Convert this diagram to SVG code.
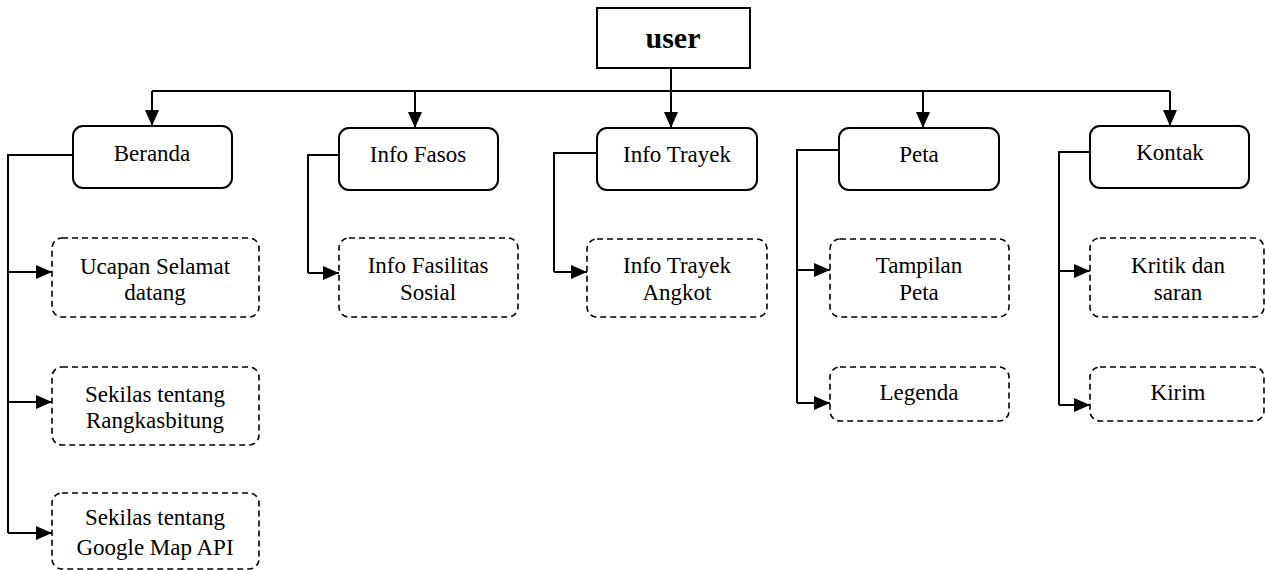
<svg xmlns="http://www.w3.org/2000/svg" width="1265" height="570" viewBox="0 0 1265 570">
<defs>
<marker id="ah" viewBox="0 0 16 14" refX="16" refY="7" markerWidth="16" markerHeight="14" markerUnits="userSpaceOnUse" orient="auto">
<path d="M0,0 L16,7 L0,14 Z" fill="#000"/>
</marker>
<style>
.main{fill:#fff;stroke:#000;stroke-width:2}
.sub{fill:#fff;stroke:#000;stroke-width:1.6;stroke-dasharray:6 4}
.t{font-family:"Liberation Serif","Times New Roman",serif;font-size:23px;fill:#000;text-anchor:middle}
.tb{font-family:"Liberation Serif","Times New Roman",serif;font-size:30px;font-weight:bold;fill:#000;text-anchor:middle}
.c{fill:none;stroke:#000;stroke-width:2}
.ca{fill:none;stroke:#000;stroke-width:2;marker-end:url(#ah)}
</style>
</defs>
<rect width="1265" height="570" fill="#fff"/>
<g id="connectors">
<path class="c" d="M152,91 H1170"/>
<path class="ca" d="M671,68 V128"/>
<path class="ca" d="M152,91 V126"/>
<path class="ca" d="M415,91 V128"/>
<path class="ca" d="M923,91 V128"/>
<path class="ca" d="M1170,91 V126"/>
<path class="c" d="M73,155 H8 V533"/>
<path class="ca" d="M8,272 H52"/>
<path class="ca" d="M8,402 H52"/>
<path class="ca" d="M8,533 H52"/>
<path class="c" d="M339,155 H308 V273"/>
<path class="ca" d="M308,273 H339"/>
<path class="c" d="M597,153 H554 V272"/>
<path class="ca" d="M554,272 H587"/>
<path class="c" d="M839,150 H797 V403"/>
<path class="ca" d="M797,270 H830"/>
<path class="ca" d="M797,403 H830"/>
<path class="c" d="M1090,152 H1059 V405"/>
<path class="ca" d="M1059,271 H1090"/>
<path class="ca" d="M1059,405 H1090"/>
</g>
<g id="user"><rect class="main" x="597" y="8" width="153" height="60"/><text class="tb" x="673" y="48">user</text></g>
<g id="beranda"><rect class="main" x="73" y="126" width="159" height="62" rx="10"/><text class="t" x="152" y="161">Beranda</text></g>
<g id="info-fasos"><rect class="main" x="339" y="128" width="159" height="62" rx="10"/><text class="t" x="418" y="162">Info Fasos</text></g>
<g id="info-trayek"><rect class="main" x="597" y="128" width="160" height="62" rx="10"/><text class="t" x="677" y="162">Info Trayek</text></g>
<g id="peta"><rect class="main" x="839" y="128" width="160" height="62" rx="10"/><text class="t" x="919" y="162">Peta</text></g>
<g id="kontak"><rect class="main" x="1090" y="126" width="159" height="62" rx="10"/><text class="t" x="1170" y="160">Kontak</text></g>
<g id="ucapan"><rect class="sub" x="52" y="238" width="207" height="79" rx="10"/><text class="t" x="155" y="274">Ucapan Selamat</text><text class="t" x="155" y="300">datang</text></g>
<g id="sekilas-rangkas"><rect class="sub" x="52" y="367" width="207" height="78" rx="10"/><text class="t" x="155" y="402">Sekilas tentang</text><text class="t" x="155" y="428">Rangkasbitung</text></g>
<g id="sekilas-google"><rect class="sub" x="52" y="493" width="207" height="76" rx="10"/><text class="t" x="155" y="525">Sekilas tentang</text><text class="t" x="155" y="555">Google Map API</text></g>
<g id="info-fasilitas"><rect class="sub" x="339" y="238" width="179" height="79" rx="10"/><text class="t" x="428" y="273">Info Fasilitas</text><text class="t" x="428" y="300">Sosial</text></g>
<g id="info-trayek-angkot"><rect class="sub" x="587" y="239" width="180" height="78" rx="10"/><text class="t" x="677" y="273">Info Trayek</text><text class="t" x="677" y="300">Angkot</text></g>
<g id="tampilan-peta"><rect class="sub" x="830" y="239" width="179" height="78" rx="10"/><text class="t" x="919" y="273">Tampilan</text><text class="t" x="919" y="300">Peta</text></g>
<g id="legenda"><rect class="sub" x="830" y="367" width="179" height="54" rx="10"/><text class="t" x="919" y="400">Legenda</text></g>
<g id="kritik"><rect class="sub" x="1090" y="238" width="174" height="79" rx="10"/><text class="t" x="1178" y="273">Kritik dan</text><text class="t" x="1178" y="300">saran</text></g>
<g id="kirim"><rect class="sub" x="1090" y="367" width="174" height="54" rx="10"/><text class="t" x="1178" y="400">Kirim</text></g>
</svg>
